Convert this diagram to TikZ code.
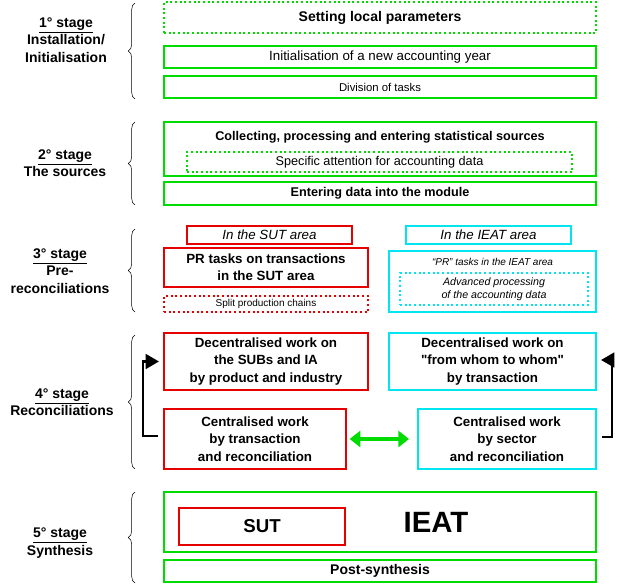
\documentclass[tikz,border=0pt]{standalone}
\usepackage{fontspec}
\setmainfont{Liberation Sans}
\usetikzlibrary{arrows.meta}
\usetikzlibrary{decorations.pathreplacing}
\definecolor{grn}{RGB}{0,220,0}
\definecolor{cyn}{RGB}{0,230,240}
\definecolor{rd}{RGB}{230,0,0}
\tikzset{box/.style={draw,line width=1.5pt,inner sep=0pt,align=center},
         gbox/.style={box,draw=grn},
         rbox/.style={box,draw=rd},
         cbox/.style={box,draw=cyn},
         stage/.style={align=center,font=\bfseries\fontsize{10.5}{13}\selectfont},
         brc/.style={decorate,decoration={brace,amplitude=5pt},thin}}
\begin{document}
\begin{tikzpicture}[x=0.75pt,y=-0.75pt]
\useasboundingbox (0,0) rectangle (621,585);
% stage 1
\node[gbox,dotted,minimum width=432*0.75pt,minimum height=31*0.75pt,font=\bfseries\fontsize{10.5}{12}\selectfont] (param) at (380,17.5) {Setting local parameters};
\node[gbox,line width=1.2pt,minimum width=432*0.75pt,minimum height=22*0.75pt,font=\fontsize{10}{11}\selectfont] (year) at (380,57) {Initialisation of a new accounting year};
\node[gbox,line width=1.2pt,minimum width=432*0.75pt,minimum height=22*0.75pt,font=\fontsize{8.5}{10}\selectfont] (div) at (380,87) {Division of tasks};
% stage 2
\node[gbox,minimum width=432*0.75pt,minimum height=54*0.75pt] (coll) at (380,149) {};
\node[font=\bfseries\fontsize{9.5}{11}\selectfont] (colltxt) at (380,137) {Collecting, processing and entering statistical sources};
\node[gbox,dotted,line width=1pt,minimum width=385*0.75pt,minimum height=20*0.75pt,font=\fontsize{9.5}{11}\selectfont] (spec) at (379.5,162) {Specific attention for accounting data};
\node[gbox,minimum width=432*0.75pt,minimum height=23*0.75pt,font=\bfseries\fontsize{9.5}{11}\selectfont] (enter) at (380,193.5) {Entering data into the module};
% stage 3
\node[rbox,line width=1pt,minimum width=165*0.75pt,minimum height=18*0.75pt,font=\itshape\fontsize{10}{11}\selectfont] (sutarea) at (269.5,235) {In the SUT area};
\node[cbox,line width=1pt,minimum width=165*0.75pt,minimum height=18*0.75pt,font=\itshape\fontsize{10}{11}\selectfont] (ieatarea) at (488.5,235) {In the IEAT area};
\node[rbox,minimum width=204*0.75pt,minimum height=39*0.75pt,font=\bfseries\fontsize{10}{13}\selectfont] (prsut) at (266,267.5) {PR tasks on transactions\\in the SUT area};
\node[rbox,dotted,line width=1pt,minimum width=204*0.75pt,minimum height=16*0.75pt,font=\fontsize{7.5}{8}\selectfont] (split) at (266,304) {Split production chains};
\node[cbox,minimum width=207*0.75pt,minimum height=61*0.75pt] (prieat) at (492.5,281.5) {};
\node[font=\itshape\fontsize{7.5}{9}\selectfont] (prtxt) at (492.5,262) {``PR'' tasks in the IEAT area};
\node[cbox,dotted,line width=1pt,minimum width=188*0.75pt,minimum height=32*0.75pt,font=\itshape\fontsize{8}{10}\selectfont] (adv) at (494,289) {Advanced processing\\of the accounting data};
% stage 4
\node[rbox,minimum width=204*0.75pt,minimum height=57*0.75pt,font=\bfseries\fontsize{10}{13}\selectfont] (decsut) at (266,361.5) {Decentralised work on\\the SUBs and IA\\by product and industry};
\node[cbox,minimum width=207*0.75pt,minimum height=57*0.75pt,font=\bfseries\fontsize{10}{13}\selectfont] (decieat) at (492.5,361.5) {Decentralised work on\\\textquotedbl from whom to whom\textquotedbl\\by transaction};
\node[rbox,minimum width=182*0.75pt,minimum height=60*0.75pt,font=\bfseries\fontsize{10}{13}\selectfont] (censut) at (255,439) {Centralised work\\by transaction\\and reconciliation};
\node[cbox,minimum width=178*0.75pt,minimum height=60*0.75pt,font=\bfseries\fontsize{10}{13}\selectfont] (cenieat) at (507,439) {Centralised work\\by sector\\and reconciliation};
\draw[grn,line width=3pt,{Triangle[width=12pt,length=8pt]}-{Triangle[width=12pt,length=8pt]}] ([xshift=2pt]censut.east) -- ([xshift=-6pt]cenieat.west);
\coordinate (la) at (143,436);
\coordinate (ra) at (612,437);
\draw[line width=2pt,-{Triangle[width=11pt,length=10pt]}] ([xshift=-4pt]censut.west |- la) -- (la) -- (la |- decsut) -- ([xshift=-3pt]decsut.west);
\draw[line width=2pt,-{Triangle[width=11pt,length=10pt]}] ([xshift=4pt]cenieat.east |- ra) -- (ra) -- (612,360) coordinate (rb) -- ([xshift=3pt]decieat.east |- rb);
% stage 5
\node[gbox,minimum width=432*0.75pt,minimum height=60*0.75pt] (synth) at (380,522) {};
\node[rbox,minimum width=166*0.75pt,minimum height=37*0.75pt,font=\bfseries\fontsize{14}{16}\selectfont] (sut) at (262,526.5) {SUT};
\node[font=\bfseries\fontsize{22}{24}\selectfont] (ieat) at (436,522) {IEAT};
\node[gbox,minimum width=432*0.75pt,minimum height=22*0.75pt,font=\bfseries\fontsize{10.5}{12}\selectfont] (post) at (380,571) {Post-synthesis};
% stages
\node[stage] (s1) at (66,40) {\underline{1° stage}\\Installation/\\Initialisation};
\node[stage] (s2) at (65,163) {\underline{2° stage}\\The sources};
\node[stage] (s3) at (60,271) {\underline{3° stage}\\Pre-\\reconciliations};
\node[stage] (s4) at (62,402) {\underline{4° stage}\\Reconciliations};
\node[stage] (s5) at (60,543) {\underline{5° stage}\\Synthesis};
\draw[brc] (135,99) -- (135,3);
\draw[brc] (135,205) -- (135,122);
\draw[brc] (135,312) -- (135,229);
\draw[brc] (135,469) -- (135,335);
\draw[brc] (135,583) -- (135,492);
\end{tikzpicture}
\end{document}
